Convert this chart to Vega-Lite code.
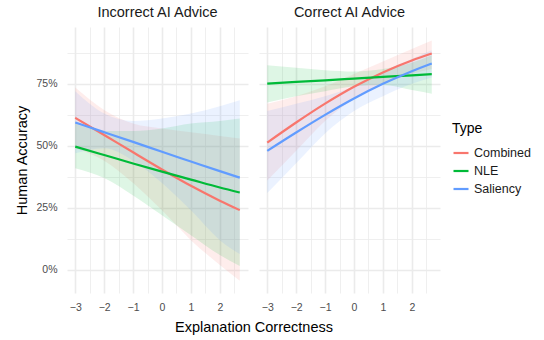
{
  "$schema": "https://vega.github.io/schema/vega-lite/v6.json",
  "background": "white",
  "padding": {"left": 14, "top": 4, "right": 5, "bottom": 5},
  "data": {"values": [
    {"panel": "Incorrect AI Advice", "Type": "Combined", "x": -3, "y": 0.613, "lo": 0.49, "hi": 0.735},
    {"panel": "Incorrect AI Advice", "Type": "Combined", "x": -2, "y": 0.544, "lo": 0.44, "hi": 0.645},
    {"panel": "Incorrect AI Advice", "Type": "Combined", "x": -1, "y": 0.474, "lo": 0.35, "hi": 0.59},
    {"panel": "Incorrect AI Advice", "Type": "Combined", "x": 0, "y": 0.405, "lo": 0.24, "hi": 0.57},
    {"panel": "Incorrect AI Advice", "Type": "Combined", "x": 1, "y": 0.339, "lo": 0.12, "hi": 0.555},
    {"panel": "Incorrect AI Advice", "Type": "Combined", "x": 2, "y": 0.279, "lo": 0.02, "hi": 0.54},
    {"panel": "Incorrect AI Advice", "Type": "Combined", "x": 2.69, "y": 0.241, "lo": -0.044, "hi": 0.53},
    {"panel": "Incorrect AI Advice", "Type": "NLE", "x": -3, "y": 0.497, "lo": 0.41, "hi": 0.59},
    {"panel": "Incorrect AI Advice", "Type": "NLE", "x": -2, "y": 0.463, "lo": 0.37, "hi": 0.56},
    {"panel": "Incorrect AI Advice", "Type": "NLE", "x": -1, "y": 0.429, "lo": 0.3, "hi": 0.56},
    {"panel": "Incorrect AI Advice", "Type": "NLE", "x": 0, "y": 0.396, "lo": 0.22, "hi": 0.57},
    {"panel": "Incorrect AI Advice", "Type": "NLE", "x": 1, "y": 0.364, "lo": 0.14, "hi": 0.59},
    {"panel": "Incorrect AI Advice", "Type": "NLE", "x": 2, "y": 0.332, "lo": 0.06, "hi": 0.6},
    {"panel": "Incorrect AI Advice", "Type": "NLE", "x": 2.69, "y": 0.312, "lo": 0.016, "hi": 0.61},
    {"panel": "Incorrect AI Advice", "Type": "Saliency", "x": -3, "y": 0.594, "lo": 0.47, "hi": 0.72},
    {"panel": "Incorrect AI Advice", "Type": "Saliency", "x": -2, "y": 0.555, "lo": 0.49, "hi": 0.63},
    {"panel": "Incorrect AI Advice", "Type": "Saliency", "x": -1, "y": 0.516, "lo": 0.44, "hi": 0.6},
    {"panel": "Incorrect AI Advice", "Type": "Saliency", "x": 0, "y": 0.476, "lo": 0.35, "hi": 0.61},
    {"panel": "Incorrect AI Advice", "Type": "Saliency", "x": 1, "y": 0.437, "lo": 0.24, "hi": 0.63},
    {"panel": "Incorrect AI Advice", "Type": "Saliency", "x": 2, "y": 0.398, "lo": 0.12, "hi": 0.66},
    {"panel": "Incorrect AI Advice", "Type": "Saliency", "x": 2.69, "y": 0.372, "lo": 0.064, "hi": 0.684},
    {"panel": "Correct AI Advice", "Type": "Combined", "x": -3, "y": 0.513, "lo": 0.36, "hi": 0.67},
    {"panel": "Correct AI Advice", "Type": "Combined", "x": -2, "y": 0.594, "lo": 0.48, "hi": 0.7},
    {"panel": "Correct AI Advice", "Type": "Combined", "x": -1, "y": 0.67, "lo": 0.6, "hi": 0.74},
    {"panel": "Correct AI Advice", "Type": "Combined", "x": 0, "y": 0.738, "lo": 0.69, "hi": 0.79},
    {"panel": "Correct AI Advice", "Type": "Combined", "x": 1, "y": 0.796, "lo": 0.75, "hi": 0.84},
    {"panel": "Correct AI Advice", "Type": "Combined", "x": 2, "y": 0.844, "lo": 0.79, "hi": 0.89},
    {"panel": "Correct AI Advice", "Type": "Combined", "x": 2.69, "y": 0.872, "lo": 0.81, "hi": 0.925},
    {"panel": "Correct AI Advice", "Type": "NLE", "x": -3, "y": 0.751, "lo": 0.675, "hi": 0.825},
    {"panel": "Correct AI Advice", "Type": "NLE", "x": -2, "y": 0.758, "lo": 0.7, "hi": 0.815},
    {"panel": "Correct AI Advice", "Type": "NLE", "x": -1, "y": 0.764, "lo": 0.72, "hi": 0.805},
    {"panel": "Correct AI Advice", "Type": "NLE", "x": 0, "y": 0.771, "lo": 0.74, "hi": 0.8},
    {"panel": "Correct AI Advice", "Type": "NLE", "x": 1, "y": 0.778, "lo": 0.745, "hi": 0.81},
    {"panel": "Correct AI Advice", "Type": "NLE", "x": 2, "y": 0.784, "lo": 0.725, "hi": 0.835},
    {"panel": "Correct AI Advice", "Type": "NLE", "x": 2.69, "y": 0.789, "lo": 0.71, "hi": 0.865},
    {"panel": "Correct AI Advice", "Type": "Saliency", "x": -3, "y": 0.48, "lo": 0.31, "hi": 0.64},
    {"panel": "Correct AI Advice", "Type": "Saliency", "x": -2, "y": 0.554, "lo": 0.43, "hi": 0.67},
    {"panel": "Correct AI Advice", "Type": "Saliency", "x": -1, "y": 0.625, "lo": 0.55, "hi": 0.7},
    {"panel": "Correct AI Advice", "Type": "Saliency", "x": 0, "y": 0.691, "lo": 0.64, "hi": 0.74},
    {"panel": "Correct AI Advice", "Type": "Saliency", "x": 1, "y": 0.75, "lo": 0.7, "hi": 0.8},
    {"panel": "Correct AI Advice", "Type": "Saliency", "x": 2, "y": 0.801, "lo": 0.75, "hi": 0.85},
    {"panel": "Correct AI Advice", "Type": "Saliency", "x": 2.69, "y": 0.832, "lo": 0.775, "hi": 0.885}
  ]},
  "facet": {
    "column": {
      "field": "panel", "type": "nominal",
      "sort": ["Incorrect AI Advice", "Correct AI Advice"],
      "title": "Explanation Correctness",
      "header": {
        "titleOrient": "bottom", "labelOrient": "top",
        "labelFont": "Liberation Sans", "labelFontSize": 14.5, "labelColor": "#1A1A1A", "labelPadding": 7,
        "titleFont": "Liberation Sans", "titleFontSize": 14.5, "titleFontWeight": "normal", "titleColor": "#000000", "titlePadding": -2
      }
    }
  },
  "spacing": 11,
  "spec": {
    "width": 181,
    "height": 266,
    "layer": [
      {
        "mark": {"type": "area", "interpolate": "monotone", "fillOpacity": 0.13},
        "encoding": {
          "x": {"field": "x", "type": "quantitative"},
          "y": {"field": "lo", "type": "quantitative"},
          "y2": {"field": "hi"},
          "color": {"field": "Type", "type": "nominal"}
        }
      },
      {
        "mark": {"type": "line", "interpolate": "monotone", "strokeWidth": 2.2},
        "encoding": {
          "x": {"field": "x", "type": "quantitative",
                "scale": {"domain": [-3.285, 2.975], "nice": false, "zero": false},
                "axis": {"title": null, "values": [-3, -2.5, -2, -1.5, -1, -0.5, 0, 0.5, 1, 1.5, 2, 2.5],
                         "tickCount": 30, "labelOverlap": false, "labelPadding": 9,
                         "labelExpr": "datum.value % 1 === 0 ? format(datum.value, 'd') : ''",
                         "gridWidth": {"condition": {"test": "datum.value % 1 !== 0", "value": 0.8}, "value": 1.6}}},
          "y": {"field": "y", "type": "quantitative",
                "scale": {"domain": [-0.093, 0.979], "nice": false, "zero": false},
                "axis": {"title": "Human Accuracy", "values": [0, 0.125, 0.25, 0.375, 0.5, 0.625, 0.75, 0.875],
                         "tickCount": 30, "labelOverlap": false, "labelPadding": 10, "titlePadding": 6,
                         "labelExpr": "(datum.value * 4) % 1 === 0 ? format(datum.value, '.0%') : ''",
                         "gridWidth": {"condition": {"test": "(datum.value * 4) % 1 !== 0", "value": 0.8}, "value": 1.6}}},
          "color": {"field": "Type", "type": "nominal",
                    "scale": {"domain": ["Combined", "NLE", "Saliency"], "range": ["#F8766D", "#00BA38", "#619CFF"]},
                    "legend": {"title": "Type", "orient": "none", "legendX": 385, "legendY": 95,
                               "symbolType": "stroke", "symbolSize": 225, "symbolStrokeWidth": 2.2}}
        }
      }
    ]
  },
  "config": {
    "font": "Liberation Sans",
    "view": {"stroke": null},
    "axis": {
      "domain": false, "ticks": false, "gridColor": "#EBEBEB",
      "labelFont": "Liberation Sans", "labelFontSize": 10.5, "labelColor": "#4D4D4D",
      "titleFont": "Liberation Sans", "titleFontSize": 14.5, "titleFontWeight": "normal", "titleColor": "#000000"
    },
    "legend": {
      "titleFont": "Liberation Sans", "titleFontSize": 14, "titleFontWeight": "normal", "titleColor": "#000000", "titlePadding": 8,
      "labelFont": "Liberation Sans", "labelFontSize": 12.5, "labelColor": "#1A1A1A", "rowPadding": 2
    }
  }
}
